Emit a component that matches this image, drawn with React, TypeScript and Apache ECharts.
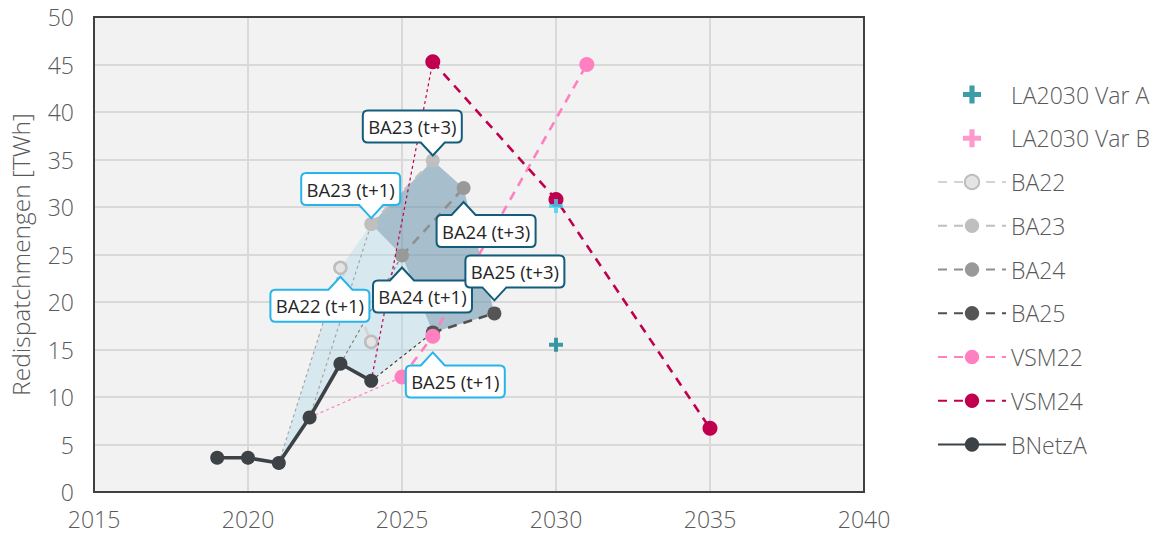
import React, { useEffect, useRef } from "react";
import * as echarts from "echarts";

// ---- data ----
const bnetzaYears = [2019, 2020, 2021, 2022, 2023, 2024];
const bnetzaValues = [3.6, 3.6, 3.05, 7.85, 13.5, 11.7];

const ba22Years = [2023, 2024];
const ba22Values = [23.6, 15.8];
const ba23Years = [2024, 2026];
const ba23Values = [28.2, 34.9];
const ba24Years = [2025, 2027];
const ba24Values = [24.9, 32.0];
const ba25Years = [2026, 2028];
const ba25Values = [16.8, 18.8];
const vsm22Years = [2025, 2026, 2031];
const vsm22Values = [12.1, 16.4, 45.0];
const vsm24Years = [2026, 2030, 2035];
const vsm24Values = [45.3, 30.8, 6.7];

// base year (last actual) each forecast starts from
const baseYears: Record<string, number> = {
  BA22: 2021,
  BA23: 2022,
  BA24: 2023,
  BA25: 2024,
  VSM22: 2022,
  VSM24: 2024,
};

const laYear = [2030];
const laVarA = [15.5];
const laVarB = [30.1];

const xTicks = { min: 2015, max: 2040, interval: 5 };
const yTicks = { min: 0, max: 50, interval: 5 };

const calloutTexts = [
  "BA22 (t+1)",
  "BA23 (t+1)",
  "BA23 (t+3)",
  "BA24 (t+1)",
  "BA24 (t+3)",
  "BA25 (t+1)",
  "BA25 (t+3)",
];

// ---- helpers ----
const zip = (xs: number[], ys: number[]) => xs.map((x, i) => [x, ys[i]]);
const actual = (year: number) => bnetzaValues[bnetzaYears.indexOf(year)];

const forecast: Record<string, { years: number[]; values: number[] }> = {
  BA22: { years: ba22Years, values: ba22Values },
  BA23: { years: ba23Years, values: ba23Values },
  BA24: { years: ba24Years, values: ba24Values },
  BA25: { years: ba25Years, values: ba25Values },
  VSM22: { years: vsm22Years, values: vsm22Values },
  VSM24: { years: vsm24Years, values: vsm24Values },
};
const pt = (name: string, i: number) => [forecast[name].years[i], forecast[name].values[i]];

// callout layout (style only)
const LIGHT = "#27b4ea";
const DARK = "#135c7b";
const calloutLayout = [
  { ref: ["BA22", 0], dir: "up", anchor: 70, edge: 22, color: LIGHT },
  { ref: ["BA23", 0], dir: "down", anchor: 70, edge: 19, color: LIGHT },
  { ref: ["BA23", 1], dir: "down", anchor: 70, edge: 18, color: DARK },
  { ref: ["BA24", 0], dir: "up", anchor: 29, edge: 25, color: DARK },
  { ref: ["BA24", 1], dir: "up", anchor: 27, edge: 27, color: DARK },
  { ref: ["BA25", 0], dir: "up", anchor: 27, edge: 33, color: LIGHT },
  { ref: ["BA25", 1], dir: "down", anchor: 29, edge: 26, color: DARK },
];

const FONT = "Open Sans";

export default function App() {
  const ref = useRef<HTMLDivElement>(null);

  useEffect(() => {
    if (!ref.current) return;
    const chart = echarts.init(ref.current, undefined, { renderer: "svg" });

    const dashed = [9, 7];
    const thin = [3, 3];

    const lineSeries = (
      name: string,
      color: string,
      fill: string,
      size: number,
      z: number,
      border?: string
    ) => ({
      name,
      type: "line",
      data: zip(forecast[name].years, forecast[name].values),
      symbol: "circle",
      symbolSize: size,
      lineStyle: { color, width: 2.6, type: dashed },
      itemStyle: border
        ? { color: fill, borderColor: border, borderWidth: 2.5 }
        : { color: fill },
      z,
      silent: true,
    });

    const connector = (name: string, color: string, z: number) => ({
      type: "line",
      data: [[baseYears[name], actual(baseYears[name])], pt(name, 0)],
      symbol: "none",
      lineStyle: { color, width: 1.2, type: thin },
      z,
      silent: true,
    });

    const lightPoly = [
      [2021, actual(2021)],
      pt("BA22", 0),
      pt("BA23", 0),
      pt("BA24", 0),
      pt("BA25", 0),
      [2024, actual(2024)],
      [2023, actual(2023)],
      [2022, actual(2022)],
    ];
    const darkPoly = [
      pt("BA23", 0),
      pt("BA23", 1),
      pt("BA24", 1),
      pt("BA25", 1),
      pt("BA25", 0),
      pt("BA24", 0),
    ];

    const polySeries = (verts: number[][], fill: string) => ({
      type: "custom",
      data: [0],
      z: 1,
      silent: true,
      clip: false,
      renderItem: (_p: any, api: any) => ({
        type: "polygon",
        shape: { points: verts.map((v) => api.coord(v)) },
        style: { fill },
      }),
    });

    const plus = "path://M5,0H9V5H14V9H9V14H5V9H0V5H5Z";
    const labelText = { color: "#595959", fontFamily: FONT, fontWeight: 300 };

    const option: any = {
      animation: false,
      backgroundColor: "#ffffff",
      grid: {
        left: 93,
        top: 17,
        width: 771,
        height: 475,
        show: true,
        backgroundColor: "#f2f2f2",
        borderColor: "#404040",
        borderWidth: 0,
      },
      xAxis: {
        type: "value",
        ...xTicks,
        axisLine: { show: false },
        axisTick: { show: false },
        axisLabel: {
          ...labelText,
          fontSize: 23,
          margin: 15,
          formatter: (v: number) => String(v),
        },
        splitLine: { show: true, lineStyle: { color: "#d9d9d9", width: 2 } },
      },
      yAxis: {
        type: "value",
        ...yTicks,
        name: "Redispatchmengen [TWh]",
        nameLocation: "middle",
        nameGap: 61,
        nameTextStyle: { ...labelText, fontSize: 24.5 },
        axisLine: { show: false },
        axisTick: { show: false },
        axisLabel: { ...labelText, fontSize: 23, margin: 20 },
        splitLine: { show: true, lineStyle: { color: "#d9d9d9", width: 2 } },
      },
      legend: {
        orient: "vertical",
        left: 932,
        top: 78,
        itemWidth: 68,
        itemHeight: 18,
        itemGap: 20.75,
        selectedMode: false,
        textStyle: { ...labelText, fontSize: 23, lineHeight: 22 },
        data: [
          { name: "LA2030 Var A" },
          { name: "LA2030 Var B", itemStyle: { color: "#ff80c0" } },
          "BA22",
          "BA23",
          "BA24",
          "BA25",
          "VSM22",
          "VSM24",
          "BNetzA",
        ],
      },
      series: [
        {
          type: "custom",
          data: [0],
          z: 1,
          silent: true,
          clip: false,
          renderItem: (_p: any, api: any) => {
            const a = api.coord([xTicks.min, yTicks.max]);
            const b = api.coord([xTicks.max, yTicks.min]);
            return {
              type: "rect",
              shape: { x: a[0], y: a[1], width: b[0] - a[0], height: b[1] - a[1] },
              style: { fill: "none", stroke: "#404040", lineWidth: 2 },
            };
          },
        },
        polySeries(lightPoly, "rgba(173,216,235,0.38)"),
        polySeries(darkPoly, "rgba(105,150,175,0.55)"),
        connector("BA22", "#a6a6a6", 2),
        connector("BA23", "#a6a6a6", 2),
        connector("BA24", "#808080", 2),
        connector("BA25", "#404040", 2),
        connector("VSM22", "#ff80c0", 2),
        connector("VSM24", "#c0004f", 4),
        lineSeries("BA22", "#d3d3d3", "#e4e4e4", 12, 3, "#bdbdbd"),
        lineSeries("BA23", "#bfbfbf", "#bfbfbf", 14, 3),
        lineSeries("BA24", "#8f8f8f", "#999999", 14, 3),
        lineSeries("BA25", "#505050", "#555555", 14, 3),
        lineSeries("VSM22", "#ff80c0", "#ff80c0", 15, 4),
        lineSeries("VSM24", "#c0004f", "#c0004f", 15, 4),
        {
          name: "BNetzA",
          type: "line",
          data: zip(bnetzaYears, bnetzaValues),
          symbol: "circle",
          symbolSize: 14,
          lineStyle: { color: "#3d4246", width: 3.6 },
          itemStyle: { color: "#3d4246" },
          z: 5,
          silent: true,
        },
        {
          name: "LA2030 Var A",
          type: "scatter",
          data: zip(laYear, laVarA),
          symbol: plus,
          symbolSize: 14,
          symbolKeepAspect: true,
          itemStyle: { color: "#0b8593" },
          z: 6,
          silent: true,
        },
        {
          name: "LA2030 Var B",
          type: "scatter",
          data: zip(laYear, laVarB),
          symbol: plus,
          symbolSize: 14,
          symbolKeepAspect: true,
          itemStyle: { color: "#3fd3f4" },
          z: 6,
          silent: true,
        },
        {
          type: "custom",
          z: 10,
          clip: false,
          silent: true,
          data: calloutLayout.map((c) => pt(c.ref[0] as string, c.ref[1] as number)),
          renderItem: (params: any, api: any) => {
            const c = calloutLayout[params.dataIndex];
            const p = api.coord([api.value(0), api.value(1)]);
            const W = 99,
              H = 32,
              r = 5,
              ph = 13,
              b = 12;
            const px = p[0];
            const L = px - c.anchor;
            let T: number;
            let d: string;
            if (c.dir === "up") {
              T = p[1] + c.edge;
              const B = T + H;
              d = `M${L + r},${T} L${px - b},${T} L${px},${T - ph} L${px + b},${T} L${L + W - r},${T} Q${L + W},${T} ${L + W},${T + r} L${L + W},${B - r} Q${L + W},${B} ${L + W - r},${B} L${L + r},${B} Q${L},${B} ${L},${B - r} L${L},${T + r} Q${L},${T} ${L + r},${T} Z`;
            } else {
              T = p[1] - c.edge - H;
              const B = T + H;
              d = `M${L + r},${T} L${L + W - r},${T} Q${L + W},${T} ${L + W},${T + r} L${L + W},${B - r} Q${L + W},${B} ${L + W - r},${B} L${px + b},${B} L${px},${B + ph} L${px - b},${B} L${L + r},${B} Q${L},${B} ${L},${B - r} L${L},${T + r} Q${L},${T} ${L + r},${T} Z`;
            }
            return {
              type: "group",
              children: [
                {
                  type: "path",
                  shape: { pathData: d },
                  style: { fill: "#ffffff", stroke: c.color, lineWidth: 2 },
                },
                {
                  type: "text",
                  style: {
                    text: calloutTexts[params.dataIndex],
                    x: L + W / 2,
                    y: T + H / 2,
                    align: "center",
                    verticalAlign: "middle",
                    fill: "#262626",
                    fontSize: 18.5,
                    fontFamily: FONT,
                  },
                },
              ],
            };
          },
        },
      ],
    };

    chart.setOption(option);
    return () => chart.dispose();
  }, []);

  return (
    <div
      ref={ref}
      style={{ position: "absolute", left: 0, top: 0, width: 1159, height: 533 }}
    />
  );
}
